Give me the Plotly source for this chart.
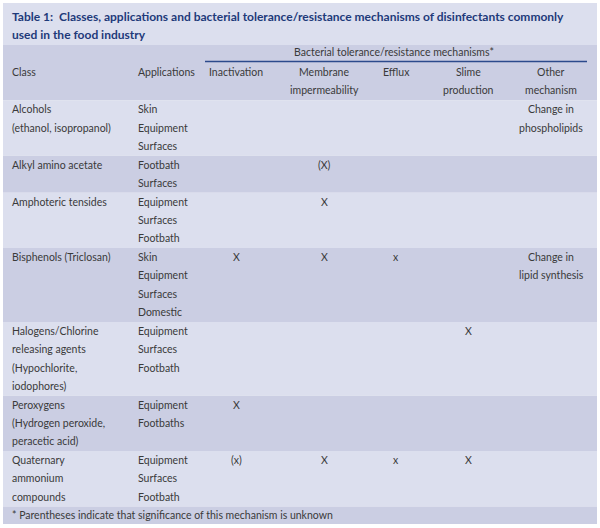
import plotly.graph_objects as go

# ---------------- data ----------------
title_lines = [
    "Table 1:  Classes, applications and bacterial tolerance/resistance mechanisms of disinfectants commonly",
    "used in the food industry",
]
group_header = "Bacterial tolerance/resistance mechanisms*"
col_headers = [
    ["Class"],
    ["Applications"],
    ["Inactivation"],
    ["Membrane", "impermeability"],
    ["Efflux"],
    ["Slime", "production"],
    ["Other", "mechanism"],
]
classes = [
    ["Alcohols", "(ethanol, isopropanol)"],
    ["Alkyl amino acetate"],
    ["Amphoteric tensides"],
    ["Bisphenols (Triclosan)"],
    ["Halogens/Chlorine", "releasing agents", "(Hypochlorite,", "iodophores)"],
    ["Peroxygens", "(Hydrogen peroxide,", "peracetic acid)"],
    ["Quaternary", "ammonium", "compounds"],
]
applications = [
    ["Skin", "Equipment", "Surfaces"],
    ["Footbath", "Surfaces"],
    ["Equipment", "Surfaces", "Footbath"],
    ["Skin", "Equipment", "Surfaces", "Domestic"],
    ["Equipment", "Surfaces", "Footbath"],
    ["Equipment", "Footbaths"],
    ["Equipment", "Surfaces", "Footbath"],
]
inactivation = [[], [], [], ["X"], [], ["X"], ["(x)"]]
membrane = [[], ["(X)"], ["X"], ["X"], [], [], ["X"]]
efflux = [[], [], [], ["x"], [], [], ["x"]]
slime = [[], [], [], [], ["X"], [], ["X"]]
other = [["Change in", "phospholipids"], [], [], ["Change in", "lipid synthesis"], [], [], []]
footnote = "* Parentheses indicate that significance of this mechanism is unknown"

# ---------------- layout / style ----------------
W, H = 600, 528
LEFT, RIGHT, TOP = 3, 597, 3
LINE_H = 18.45
LIGHT = "#dcdfee"
DARK = "#cbcee3"
TITLE_COL = "#1e3a7a"
TEXT_COL = "#3a3a3a"
FONT = "Lato"
FS = 10.5

col_x = [10, 136, 236, 324, 396, 468, 551]
col_anchor = ["left", "left", "center", "center", "center", "center", "center"]

fig = go.Figure()
shapes = []
ann = []


def text(x, y, s, anchor="left", size=FS, color=TEXT_COL, bold=False):
    if bold:
        s = "<b>" + s + "</b>"
    ann.append(dict(x=x, y=y, xref="x", yref="y", text=s, showarrow=False,
                    xanchor=anchor, yanchor="middle",
                    font=dict(family=FONT, size=size, color=color)))


def band(y0, y1, color):
    shapes.append(dict(type="rect", xref="x", yref="y", x0=LEFT, x1=RIGHT,
                       y0=y0, y1=y1, fillcolor=color, line=dict(width=0),
                       layer="below"))


# title band
title_top = TOP
title_bottom = 45
band(title_top, title_bottom, LIGHT)
for i, t in enumerate(title_lines):
    text(10, 16 + i * 18, t, size=12, color=TITLE_COL, bold=True)

# header band
head_top = title_bottom
head_bottom = 100.5
band(head_top, head_bottom, DARK)
text(394, 52, group_header, anchor="center")
shapes.append(dict(type="line", xref="x", yref="y", x0=205, x1=587, y0=61.5, y1=61.5,
                   line=dict(color="#2c4a8c", width=1.3)))
for c, lines in enumerate(col_headers):
    for j, s in enumerate(lines):
        text(col_x[c], 72 + j * LINE_H, s, anchor=col_anchor[c])

# body rows
columns = [classes, applications, inactivation, membrane, efflux, slime, other]
y = head_bottom
for r in range(len(classes)):
    n = max(len(col[r]) for col in columns)
    h = n * LINE_H
    band(y, y + h, LIGHT if r % 2 == 0 else DARK)
    for c, col in enumerate(columns):
        for j, s in enumerate(col[r]):
            text(col_x[c], y + 8.8 + j * LINE_H, s, anchor=col_anchor[c])
    y += h

# footnote
band(y, y + 17.5, DARK)
text(10, y + 9, footnote)

fig.update_layout(
    width=W, height=H,
    margin=dict(l=0, r=0, t=0, b=0),
    paper_bgcolor="white", plot_bgcolor="white",
    xaxis=dict(range=[0, W], visible=False, fixedrange=True),
    yaxis=dict(range=[H, 0], visible=False, fixedrange=True),
    shapes=shapes, annotations=ann, showlegend=False,
)
fig.write_html(
    "out.html",
    config={"displayModeBar": False, "staticPlot": True},
    post_script="document.body.style.margin='0';document.body.style.overflow='hidden';",
)
